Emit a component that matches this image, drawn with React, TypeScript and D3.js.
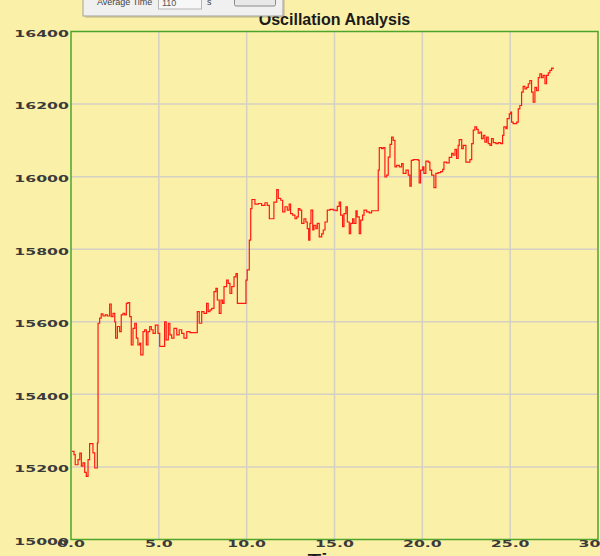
import React from "react";
import * as d3 from "d3";

const W = 600;
const H = 556;

const times = [
  0.06, 0.17, 0.24, 0.4, 0.5, 0.59, 0.68, 0.78, 0.87, 0.97, 1.06, 1.2, 1.25, 1.35, 1.44, 1.5,
  1.54, 1.63, 1.72, 1.82, 1.95, 2.07, 2.2, 2.29, 2.39, 2.49, 2.54, 2.64, 2.77, 2.86, 2.96, 3.06,
  3.15, 3.24, 3.34, 3.43, 3.53, 3.63, 3.72, 3.81, 3.91, 3.97, 4.1, 4.19, 4.29, 4.38, 4.48, 4.57,
  4.67, 4.8, 4.95, 5.05, 5.24, 5.33, 5.42, 5.54, 5.63, 5.73, 5.86, 6.02, 6.16, 6.3, 6.43, 6.59,
  6.77, 6.96, 7.11, 7.19, 7.3, 7.44, 7.57, 7.72, 7.81, 7.91, 8.01, 8.14, 8.25, 8.33, 8.44, 8.54,
  8.63, 8.71, 8.86, 8.95, 9.05, 9.15, 9.28, 9.39, 9.47, 9.62, 9.81, 9.9, 9.96, 10.03, 10.15, 10.23,
  10.3, 10.47, 10.66, 10.85, 11.04, 11.17, 11.29, 11.48, 11.55, 11.71, 11.8, 11.94, 12.05, 12.18,
  12.31, 12.42, 12.5, 12.62, 12.75, 12.85, 12.94, 13.03, 13.13, 13.26, 13.37, 13.45, 13.53, 13.6,
  13.66, 13.76, 13.83, 13.94, 14.02, 14.13, 14.27, 14.36, 14.46, 14.59, 14.74, 14.93, 15.08, 15.16,
  15.27, 15.35, 15.46, 15.54, 15.65, 15.73, 15.84, 15.92, 16.03, 16.11, 16.22, 16.29, 16.41, 16.49,
  16.6, 16.68, 16.83, 16.98, 17.11, 17.3, 17.43, 17.49, 17.55, 17.68, 17.77, 17.87, 17.97, 18.06,
  18.16, 18.25, 18.34, 18.44, 18.54, 18.69, 18.82, 18.91, 19.07, 19.2, 19.29, 19.37, 19.48, 19.68,
  19.77, 19.82, 19.9, 20.02, 20.09, 20.2, 20.34, 20.43, 20.53, 20.66, 20.77, 20.9, 21.04, 21.16,
  21.23, 21.38, 21.53, 21.67, 21.76, 21.86, 21.95, 22.04, 22.1, 22.24, 22.33, 22.48, 22.61, 22.71,
  22.81, 22.9, 22.99, 23.09, 23.18, 23.28, 23.37, 23.47, 23.56, 23.66, 23.75, 23.85, 23.94, 24.04,
  24.19, 24.32, 24.46, 24.57, 24.64, 24.76, 24.83, 24.95, 25.03, 25.08, 25.17, 25.27, 25.37, 25.46,
  25.55, 25.65, 25.74, 25.84, 25.94, 26.03, 26.12, 26.22, 26.31, 26.41, 26.5, 26.6, 26.69, 26.79,
  26.88, 26.98, 27.07, 27.17, 27.26, 27.36, 27.45,
];

const levels = [
  15243, 15234, 15206, 15220, 15238, 15202, 15211, 15185, 15174, 15220, 15264, 15264, 15239, 15197, 15197, 15266,
  15596, 15610, 15622, 15616, 15619, 15616, 15649, 15614, 15623, 15600, 15555, 15587, 15573, 15619, 15623, 15619,
  15651, 15653, 15614, 15536, 15582, 15596, 15555, 15536, 15541, 15509, 15573, 15578, 15536, 15573, 15587, 15578,
  15568, 15591, 15568, 15532, 15532, 15600, 15550, 15596, 15564, 15555, 15582, 15564, 15578, 15568, 15555, 15573,
  15570, 15570, 15570, 15628, 15596, 15628, 15623, 15651, 15628, 15633, 15637, 15683, 15692, 15660, 15623, 15660,
  15651, 15697, 15715, 15706, 15678, 15697, 15724, 15733, 15651, 15651, 15651, 15651, 15715, 15743, 15825, 15912,
  15937, 15924, 15926, 15921, 15928, 15921, 15884, 15884, 15930, 15964, 15940, 15935, 15903, 15917,
  15908, 15924, 15898, 15894, 15884, 15889, 15912, 15908, 15871, 15884, 15875, 15857, 15825, 15871,
  15908, 15853, 15866, 15857, 15871, 15834, 15842, 15853, 15875, 15908, 15910, 15908, 15906, 15918,
  15930, 15894, 15862, 15898, 15917, 15875, 15843, 15871, 15884, 15871, 15906, 15889, 15843, 15880,
  15894, 15908, 15903, 15900, 15906, 15906, 15906, 16018, 16080, 16077, 16080, 15999, 16004, 16054,
  16089, 16109, 16100, 16027, 16031, 16027, 16036, 16009, 16018, 16004, 15974, 16045, 16047, 16047,
  16045, 15983, 16018, 16027, 16009, 16043, 16040, 16018, 16004, 15970, 16009, 16011, 16014, 16020,
  16040, 16038, 16053, 16064, 16059, 16075, 16050, 16086, 16102, 16077, 16086, 16040, 16040, 16047,
  16091, 16128, 16137, 16130, 16120, 16123, 16105, 16114, 16095, 16109, 16091, 16086, 16105, 16094,
  16091, 16094, 16091, 16114, 16137, 16132, 16160, 16173, 16178, 16150, 16146, 16146, 16150, 16187,
  16196, 16233, 16249, 16242, 16246, 16256, 16265, 16233, 16205, 16246, 16237, 16273, 16283, 16273,
  16279, 16256, 16279, 16286, 16293, 16299, 16296,
];

const xTicks = [0, 5, 10, 15, 20, 25, 30];
const yTicks = [15000, 15200, 15400, 15600, 15800, 16000, 16200, 16400];

const chartTitle = "Oscillation Analysis";
const xTitle = "Time";

const left = 71;
const right = 598;
const top = 31.5;
const bottom = 539.5;

const bg = "#fbf0a8";
const tickFont = "'DejaVu Sans', Verdana, sans-serif";

export default function App() {
  const x = d3.scaleLinear().domain([0, 30]).range([left, right]);
  const y = d3.scaleLinear().domain([15000, 16400]).range([bottom, top]);

  const pts = times.map((t, i) => [t, levels[i]] as [number, number]);
  const line = d3
    .line<[number, number]>()
    .x((d) => x(d[0]))
    .y((d) => y(d[1]))
    .curve(d3.curveStepAfter);

  return (
    <svg
      width={W}
      height={H}
      style={{ position: "absolute", left: 0, top: 0, display: "block" }}
    >
      <rect x={0} y={0} width={W} height={H} fill={bg} />

      {/* grid */}
      {xTicks.slice(1, -1).map((t) => (
        <line key={"gx" + t} x1={x(t)} x2={x(t)} y1={top} y2={bottom} stroke="#d4d0c4" strokeWidth={1.5} />
      ))}
      {yTicks.slice(1, -1).map((v) => (
        <line key={"gy" + v} x1={left} x2={right} y1={y(v)} y2={y(v)} stroke="#d4d0c4" strokeWidth={1.5} />
      ))}

      <path d={line(pts) ?? ""} fill="none" stroke="#ff1a10" strokeWidth={1.2} />

      <rect x={left} y={top} width={right - left} height={bottom - top} fill="none" stroke="#4ca52a" strokeWidth={1.5} />

      {/* y tick labels */}
      {yTicks.map((v) => (
        <text
          key={"ly" + v}
          transform={`translate(69,${y(v) + 3}) scale(1.85,1)`}
          textAnchor="end"
          dominantBaseline="middle"
          fontFamily={tickFont}
          fontWeight="bold"
          fontSize={8.5}
          fill="#3a3a3a"
        >
          {v}
        </text>
      ))}

      {/* x tick labels */}
      {xTicks.map((t) => (
        <text
          key={"lx" + t}
          transform={`translate(${x(t)},${bottom + 5}) scale(1.85,1)`}
          textAnchor="middle"
          dominantBaseline="middle"
          fontFamily={tickFont}
          fontWeight="bold"
          fontSize={8.5}
          fill="#3a3a3a"
        >
          {t.toFixed(1)}
        </text>
      ))}

      <text
        x={(left + right) / 2}
        y={25}
        textAnchor="middle"
        fontFamily="'Liberation Sans', Arial, sans-serif"
        fontWeight="bold"
        fontSize={16}
        fill="#1a1a1a"
      >
        {chartTitle}
      </text>

      <text
        transform={`translate(${(left + right) / 2},563) scale(1.5,1)`}
        textAnchor="middle"
        fontFamily={tickFont}
        fontWeight="bold"
        fontSize={13}
        fill="#1a1a1a"
      >
        {xTitle}
      </text>

      {/* settings dialog overlapping the top of the chart */}
      <g>
        <rect x={85} y={-4} width={200} height={22} fill="#000" opacity={0.12} />
        <rect x={83} y={-5} width={200} height={21} fill="#f0f0f0" stroke="#a0a0a0" strokeWidth={1} />
        <text x={97} y={5} fontFamily="'Liberation Sans', Arial, sans-serif" fontSize={9} fill="#444">
          Average Time
        </text>
        <rect x={158.5} y={-4} width={43} height={13} fill="#f7f7f7" stroke="#b5b5b5" strokeWidth={1} />
        <text x={162} y={6} fontFamily="'Liberation Sans', Arial, sans-serif" fontSize={9} fill="#555">
          110
        </text>
        <text x={207} y={5} fontFamily="'Liberation Sans', Arial, sans-serif" fontSize={9} fill="#444">
          s
        </text>
        <rect x={234.5} y={-6} width={41} height={12} rx={1.5} fill="#e8e8e8" stroke="#8a8a8a" strokeWidth={1} />
      </g>
    </svg>
  );
}
